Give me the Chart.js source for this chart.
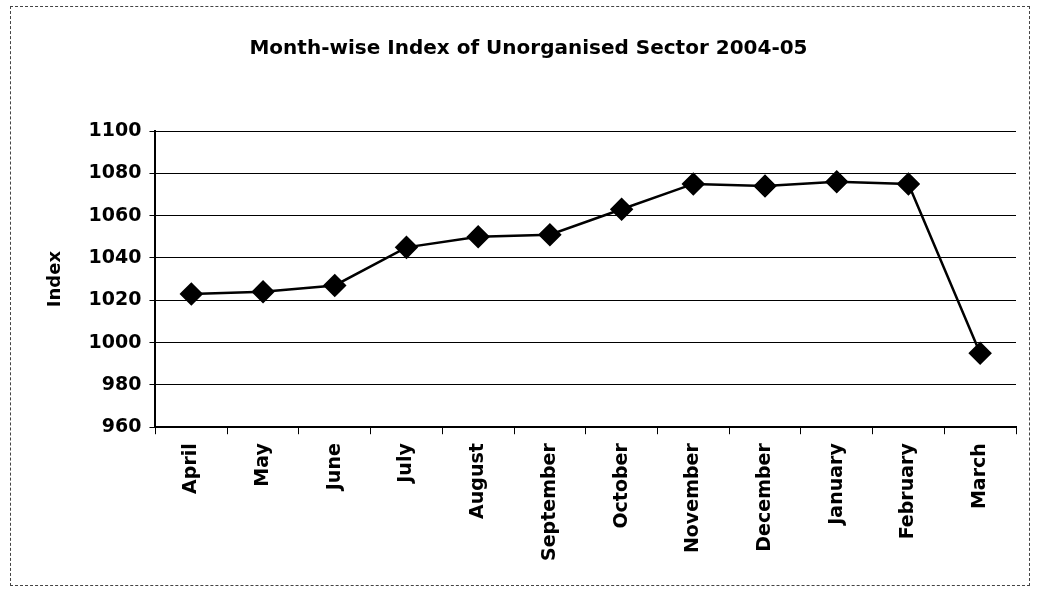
<!DOCTYPE html>
<html>
<head>
<meta charset="utf-8">
<script src="https://cdn.jsdelivr.net/npm/chart.js@4/dist/chart.umd.min.js"></script>
<style>
  html, body { margin: 0; padding: 0; background: #fff; }
  #frame {
    position: absolute; left: 10px; top: 6px; width: 1018px; height: 578px;
    border: 1px dashed #444;
  }
  #wrap { position: absolute; left: 0; top: 0; width: 1038px; height: 595px; }
</style>
</head>
<body>
<div id="frame"></div>
<div id="wrap"><canvas id="chart"></canvas></div>
<script>
const months = ['April', 'May', 'June', 'July', 'August', 'September', 'October',
  'November', 'December', 'January', 'February', 'March'];
const indexValues = [1023, 1024, 1027, 1045, 1050, 1051, 1063, 1075, 1074, 1076, 1075, 995];
const yMin = 960;
const yMax = 1100;
const yStep = 20;

const font = '"DejaVu Sans", sans-serif';
const ctx = document.getElementById('chart').getContext('2d');

new Chart(ctx, {
  type: 'line',
  data: {
    labels: months,
    datasets: [{
      label: 'Index',
      data: indexValues,
      borderColor: '#000',
      backgroundColor: '#000',
      borderWidth: 2.5,
      pointStyle: 'rectRot',
      pointRadius: 10,
      pointHoverRadius: 10,
      tension: 0
    }]
  },
  options: {
    responsive: true,
    maintainAspectRatio: false,
    animation: false,
    layout: { padding: { left: 41, right: 22, top: 20, bottom: 25 } },
    plugins: {
      legend: { display: false },
      tooltip: { enabled: false },
      title: {
        display: true,
        text: 'Month-wise Index of Unorganised Sector 2004-05',
        color: '#000',
        font: { family: font, size: 20, weight: 'bold' },
        padding: { top: 17, bottom: 70 }
      }
    },
    scales: {
      x: {
        offset: true,
        border: { color: '#000', width: 2 },
        grid: { display: true, drawOnChartArea: false, color: '#000', tickLength: 7, offset: true },
        ticks: {
          color: '#000',
          maxRotation: 90,
          minRotation: 90,
          padding: 9,
          font: { family: font, size: 19, weight: 'bold' }
        }
      },
      y: {
        min: yMin,
        max: yMax,
        border: { color: '#000', width: 2 },
        grid: { color: '#000', lineWidth: 1, tickLength: 6 },
        title: {
          display: true,
          text: 'Index',
          color: '#000',
          font: { family: font, size: 18, weight: 'bold' },
          padding: { bottom: 14 }
        },
        ticks: {
          stepSize: yStep,
          color: '#000',
          padding: 8,
          font: { family: font, size: 19, weight: 'bold' },
          callback: (v) => String(v)
        }
      }
    }
  }
});
</script>
</body>
</html>
